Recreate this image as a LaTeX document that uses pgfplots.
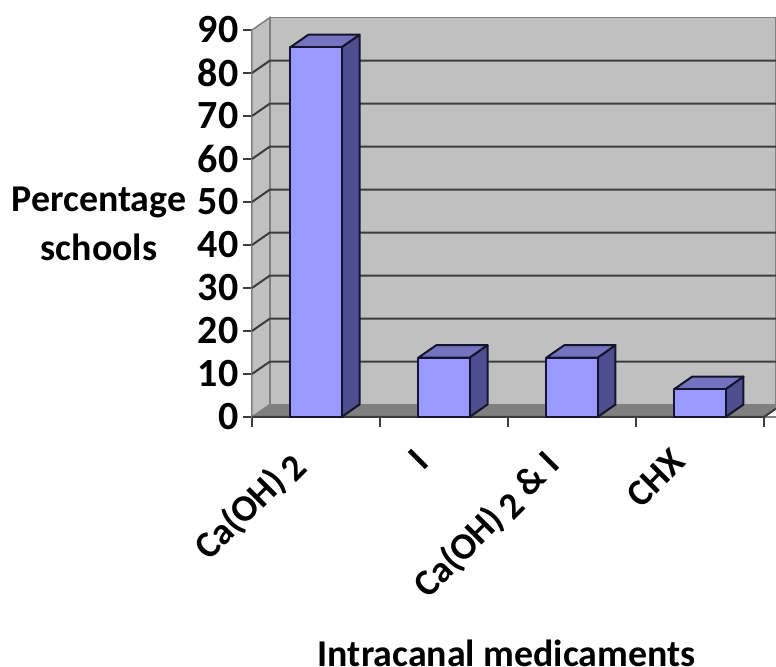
\documentclass[border=0pt]{standalone}
\usepackage{fontspec}
\setmainfont{Carlito}
\usepackage{pgfplots}
\pgfplotsset{compat=1.18}
\definecolor{wall}{HTML}{C0C0C0}
\definecolor{floorc}{HTML}{808080}
\definecolor{gridc}{HTML}{3C3C3C}
\definecolor{barfront}{HTML}{9999FF}
\definecolor{barside}{HTML}{4F4F8F}
\definecolor{bartop}{HTML}{7373BF}
\definecolor{edge}{HTML}{14142E}
% one pixel of the finished image
\newlength{\px}\setlength{\px}{0.75pt}
\pgfplotsset{
  wallface/.style={fill=wall,draw=floorc,line width=1.5\px,forget plot},
  gridrun/.style={draw=gridc,line width=2\px,forget plot},
  barface/.style={draw=edge,line width=2\px,line join=round,forget plot},
}
\begin{document}
\begin{tikzpicture}
\path[use as bounding box] (0pt,0pt) rectangle (582pt,500.25pt);
\begin{axis}[
  at={(189pt,187.5pt)},anchor=south west,
  scale only axis,
  width=524\px,height=387\px,
  xmin=0,xmax=4.094,ymin=0,ymax=90,
  clip=false,
  axis x line=bottom,axis y line=left,
  axis line style={draw=floorc,line width=1.5\px,-},
  xtick={0.5,1.5,2.5,3.5},
  xticklabels={Ca(OH)\raisebox{-4pt}{\,2},I,Ca(OH)\raisebox{-4pt}{\,2} \& I,CHX},
  x tick style={draw=none},
  extra x ticks={0,1,2,3,4},
  extra x tick labels={},
  extra x tick style={major tick length=10\px,tick align=outside,
    x tick style={draw=gridc,line width=1.6\px}},
  x tick label style={rotate=45,anchor=north east,font=\bfseries\fontsize{28}{28}\selectfont,
    inner sep=0pt,yshift=7\px,xshift=-36\px},
  ytick={0,10,...,90},
  y tick style={draw=gridc,line width=1.6\px},
  tick align=outside,
  major tick length=9\px,
  y tick label style={font=\bfseries\fontsize{30}{30}\selectfont,xshift=0\px},
  /pgf/number format/assume math mode=true,
  xlabel={Intracanal medicaments},
  every axis x label/.style={at={(axis description cs:0.486,-0.61)},anchor=center,
    font=\bfseries\fontsize{28.4}{28.4}\selectfont},
  ylabel={Percentage\\schools},
  every axis y label/.style={at={(axis description cs:-0.292,0.5)},anchor=center,
    align=center,font=\bfseries\fontsize{28.4}{36.75}\selectfont},
]
% back wall and side wall
\addplot[wallface] coordinates {(0.14,2.9) (4.094,2.9) (4.094,92.9) (0.14,92.9)} --cycle;
\addplot[wallface] coordinates {(0,0) (0.14,2.9) (0.14,92.9) (0,90)} --cycle;
% floor
\addplot[fill=floorc,draw=floorc,forget plot] coordinates {(0,0) (4,0) (4.094,1.95) (4.094,2.9) (0.14,2.9)} --cycle;
\addplot[draw=gridc,line width=2\px,forget plot] coordinates {(0,0) (4,0) (4.094,1.95)};
% grid lines running along both walls
\addplot[gridrun] coordinates {(0,10) (0.14,12.9) (4.094,12.9)};
\addplot[gridrun] coordinates {(0,20) (0.14,22.9) (4.094,22.9)};
\addplot[gridrun] coordinates {(0,30) (0.14,32.9) (4.094,32.9)};
\addplot[gridrun] coordinates {(0,40) (0.14,42.9) (4.094,42.9)};
\addplot[gridrun] coordinates {(0,50) (0.14,52.9) (4.094,52.9)};
\addplot[gridrun] coordinates {(0,60) (0.14,62.9) (4.094,62.9)};
\addplot[gridrun] coordinates {(0,70) (0.14,72.9) (4.094,72.9)};
\addplot[gridrun] coordinates {(0,80) (0.14,82.9) (4.094,82.9)};
% Ca(OH)2, value 86
\addplot[barface,fill=barside] coordinates {(0.7,0) (0.84,2.9) (0.84,88.9) (0.7,86)} --cycle;
\addplot[barface,fill=bartop] coordinates {(0.3,86) (0.44,88.9) (0.84,88.9) (0.7,86)} --cycle;
\addplot[barface,fill=barfront] coordinates {(0.3,0) (0.7,0) (0.7,86) (0.3,86)} --cycle;
% I, value 13.8
\addplot[barface,fill=barside] coordinates {(1.7,0) (1.84,2.9) (1.84,16.7) (1.7,13.8)} --cycle;
\addplot[barface,fill=bartop] coordinates {(1.3,13.8) (1.44,16.7) (1.84,16.7) (1.7,13.8)} --cycle;
\addplot[barface,fill=barfront] coordinates {(1.3,0) (1.7,0) (1.7,13.8) (1.3,13.8)} --cycle;
% Ca(OH)2 & I, value 13.8
\addplot[barface,fill=barside] coordinates {(2.7,0) (2.84,2.9) (2.84,16.7) (2.7,13.8)} --cycle;
\addplot[barface,fill=bartop] coordinates {(2.3,13.8) (2.44,16.7) (2.84,16.7) (2.7,13.8)} --cycle;
\addplot[barface,fill=barfront] coordinates {(2.3,0) (2.7,0) (2.7,13.8) (2.3,13.8)} --cycle;
% CHX, value 6.5
\addplot[barface,fill=barside] coordinates {(3.7,0) (3.84,2.9) (3.84,9.4) (3.7,6.5)} --cycle;
\addplot[barface,fill=bartop] coordinates {(3.3,6.5) (3.44,9.4) (3.84,9.4) (3.7,6.5)} --cycle;
\addplot[barface,fill=barfront] coordinates {(3.3,0) (3.7,0) (3.7,6.5) (3.3,6.5)} --cycle;
\end{axis}
\end{tikzpicture}
\end{document}
